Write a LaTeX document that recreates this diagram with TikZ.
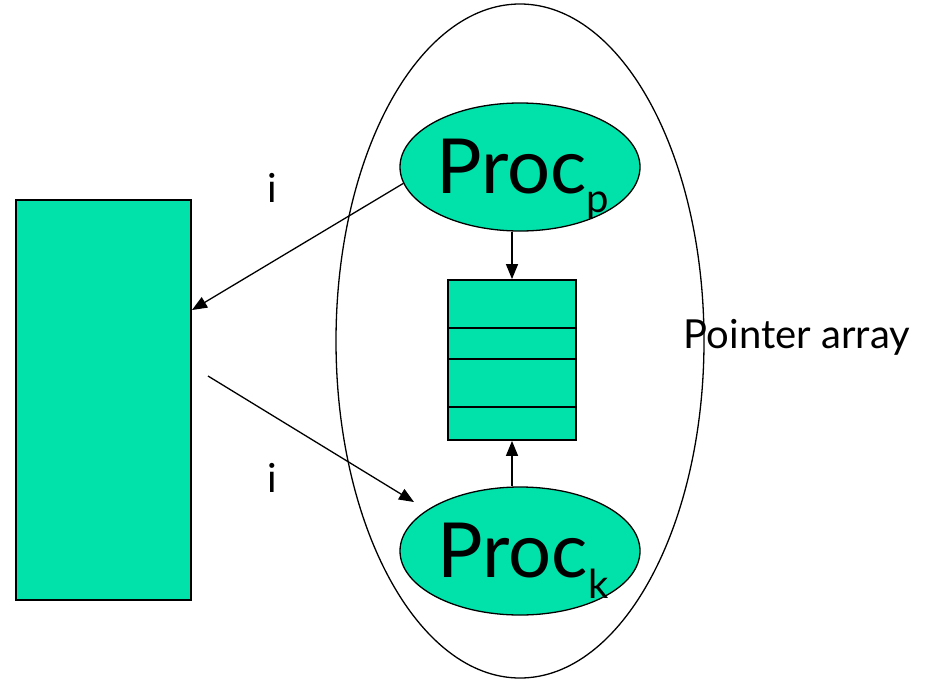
\documentclass[tikz,border=0pt]{standalone}
\usepackage{fontspec}
\newfontfamily\hand{Lato}
\usetikzlibrary{shapes.geometric,arrows.meta}
\definecolor{mint}{RGB}{0,226,170}
\begin{document}
\begin{tikzpicture}[x=1pt,y=-1pt,
  outline/.style={draw=black, line width=1.3pt},
  procell/.style={ellipse, outline, fill=mint, minimum width=240pt, minimum height=128pt, inner sep=0pt},
  proctext/.style={font=\hand\fontsize{76}{80}\selectfont, anchor=base, inner sep=0pt},
  subtext/.style={font=\hand\fontsize{40}{44}\selectfont},
  smalltext/.style={font=\hand\fontsize{40}{44}\selectfont, inner sep=0pt},
  arr/.style={-{Triangle[length=15pt,width=12pt]}, line width=1.3pt}]
\useasboundingbox (0,0) rectangle (928,680);
% outer ellipse
\node[ellipse, outline, minimum width=368pt, minimum height=674pt, inner sep=0pt] (outer) at (520,341) {};
% left block
\node[rectangle, draw=black, line width=1.8pt, fill=mint, minimum width=175pt, minimum height=400pt, inner sep=0pt] (mem) at (103.5,400) {};
% pointer array
\node[rectangle, draw=black, line width=1.8pt, fill=mint, minimum width=128pt, minimum height=160pt, inner sep=0pt] (array) at (512,360) {};
\draw[line width=1.5pt] (array.west |- 0,328) -- (array.east |- 0,328);
\draw[line width=1.5pt] (array.west |- 0,359) -- (array.east |- 0,359);
\draw[line width=1.5pt] (array.west |- 0,407) -- (array.east |- 0,407);
% processes
\node[procell] (procp) at (520,167) {};
\node[procell] (prock) at (520,551) {};
\node[proctext] (procpt) at (523,193) {Proc\raisebox{-19pt}{\hand\fontsize{40}{44}\selectfont p}};
\node[proctext] (prockt) at (523,577) {Proc\raisebox{-21pt}{\hand\fontsize{40}{44}\selectfont k}};
% labels
\node[smalltext] (ip) at (272,188) {i};
\node[smalltext] (ik) at (272,478) {i};
\node[smalltext] (plabel) at (797,337) {Pointer array};
% connectors
\coordinate (tip1) at (192,310);
\coordinate (start2) at (208,376);
\coordinate (tip2) at (414,502);
\draw[arr] (procp.188) -- (tip1);
\draw[arr] (start2) -- (tip2);
\draw[arr] (procp.south -| array.north) -- (array.north);
\draw[arr] (prock.north -| array.south) -- (array.south);
\end{tikzpicture}
\end{document}
